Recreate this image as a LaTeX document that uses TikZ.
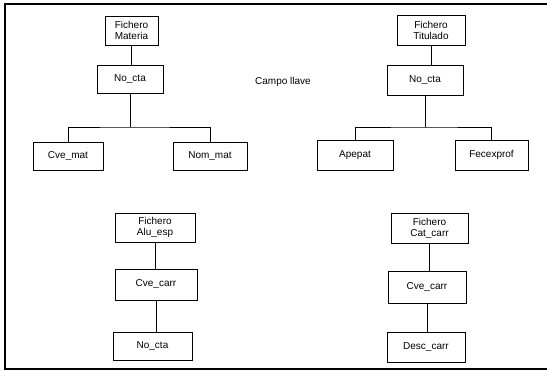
\documentclass[tikz,border=0pt]{standalone}
\usepackage{fontspec}
\setmainfont{Liberation Sans}
\usepackage{tikz}
\usetikzlibrary{positioning, calc}

\begin{document}
\begin{tikzpicture}[
    x=1pt, y=-1pt,
    field/.style={rectangle, draw=black, line width=0.9pt, inner sep=1pt, align=center, font=\fontsize{10}{11}\selectfont},
    link/.style={line width=0.9pt, draw=black},
    frame/.style={line width=1.6pt, draw=black}
]
\useasboundingbox (0,0) rectangle (547,371);

% Frame
\draw[frame] (547,4) -- (5,4) -- (5,369) -- (547,369);

% Nodes
\node[field, minimum width=53pt, minimum height=29pt] (mat) at (131.5,30.5) {Fichero\\Materia};
\node[field, minimum width=66pt, minimum height=28pt] (ncta1) at (130,79) {No\_cta};
\node[field, minimum width=70pt, minimum height=28pt] (cvemat) at (68,156) {Cve\_mat};
\node[field, minimum width=74pt, minimum height=28pt] (nommat) at (210,156) {Nom\_mat};

\node[field, minimum width=68pt, minimum height=30pt] (tit) at (431,30) {Fichero\\Titulado};
\node[field, minimum width=76pt, minimum height=30pt] (ncta2) at (425,80) {No\_cta};
\node[field, minimum width=76pt, minimum height=30pt] (apepat) at (355,155) {Apepat};
\node[field, minimum width=73pt, minimum height=30pt] (fecex) at (491.5,155) {Fecexprof};

\node[field, minimum width=80pt, minimum height=29pt] (alu) at (155,227.5) {Fichero\\Alu\_esp};
\node[field, minimum width=82pt, minimum height=31pt] (cvecarr1) at (156,284.5) {Cve\_carr};
\node[field, minimum width=79pt, minimum height=28pt] (ncta3) at (152.5,346) {No\_cta};

\node[field, minimum width=77pt, minimum height=30pt] (cat) at (429.5,228) {Fichero\\Cat\_carr};
\node[field, minimum width=78pt, minimum height=32pt] (cvecarr2) at (427,287) {Cve\_carr};
\node[field, minimum width=78pt, minimum height=30pt] (desc) at (426,347) {Desc\_carr};

\node[font=\fontsize{10}{11}\selectfont] (campo) at (283,82) {Campo llave};

% Fork points
\coordinate (fork1) at (130,127);
\coordinate (fork2) at (425,127);

% Links
\draw[link] (mat.south) -- (mat.south |- ncta1.north);
\draw[link] (ncta1.south) -- (fork1);
\draw[link] (cvemat.north) |- (fork1) -| (nommat.north);

\draw[link] (tit.south) -- (tit.south |- ncta2.north);
\draw[link] (ncta2.south) -- (fork2);
\draw[link] (apepat.north) |- (fork2) -| (fecex.north);

\draw[link] (alu.south) -- (alu.south |- cvecarr1.north);
\draw[link] (cvecarr1.south) -- (cvecarr1.south |- ncta3.north);

\draw[link] (cat.south) -- (cat.south |- cvecarr2.north);
\draw[link] (cvecarr2.south) -- (cvecarr2.south |- desc.north);

\end{tikzpicture}
\end{document}
